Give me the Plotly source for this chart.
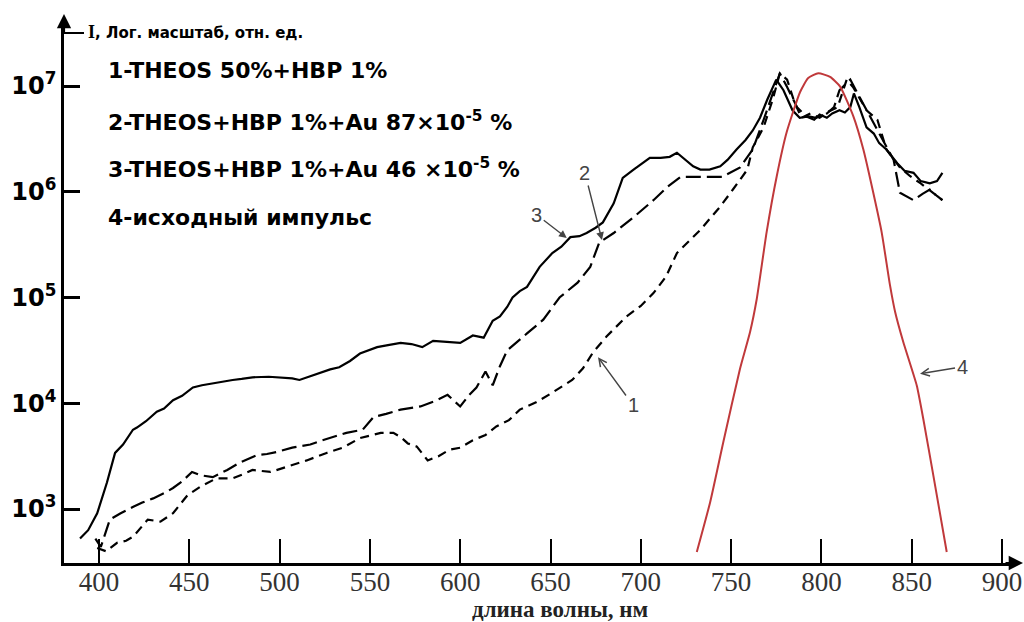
import math
import plotly.graph_objects as go

# ---- data (wavelength, nm ; intensity, rel. units) ----
wl_1 = [399, 404, 410, 415, 419, 423, 427, 434, 441, 449, 456, 465, 474, 480, 485, 495, 504, 515, 526, 535,
        544.5, 556, 563, 567, 571, 576, 582, 588, 594, 600, 607, 614, 620, 627, 633, 642, 651, 662, 668, 673.5,
        681, 692, 700, 707, 714, 720, 733, 744, 751, 759, 762, 768, 773, 777, 781, 785, 789, 794, 799, 804,
        809, 814, 817.5, 825, 831, 836, 843.5, 849, 855, 861, 867]
int_1 = [427, 398, 479, 501, 550, 661, 794, 759, 912, 1350, 1620, 1950, 1950, 2140, 2340, 2240, 2510, 2880, 3390, 3800,
         4680, 5250, 5250, 4790, 4170, 3890, 2880, 3160, 3630, 3800, 4470, 5010, 6030, 6920, 8710, 10200, 12600, 16600, 21400, 30200,
         42700, 66100, 83200, 110000, 158000, 263000, 437000, 724000, 1050000, 1620000, 2630000, 4070000, 7410000, 13200000, 11500000, 7080000, 5010000, 5500000, 5010000, 5750000,
         6310000, 11500000, 9770000, 5890000, 4790000, 2510000, 1700000, 1410000, 1200000, 1000000, 832000]

wl_2 = [398, 401, 406, 412, 419, 424, 430, 436, 441, 446, 451.5, 456, 463, 471, 478, 487.5, 493, 498.6, 507, 517,
        522, 528, 537, 546, 552, 559, 567, 578, 586, 593, 600, 605, 609, 614, 618, 622, 626, 637, 646, 655,
        665, 672, 677, 685, 696, 707, 715, 722, 734, 745, 755, 762, 768, 773, 777, 781, 786.5, 791, 797, 803,
        807, 810, 816, 820, 827, 834, 840, 843.5, 851, 856, 860, 864, 867]
int_2 = [525, 437, 794, 912, 1050, 1150, 1260, 1410, 1580, 1820, 2240, 2090, 2000, 2340, 2750, 3240, 3310, 3470, 3800, 4070,
         4370, 4680, 5250, 5620, 7410, 7940, 8710, 9330, 10500, 12000, 9330, 12000, 14100, 19950, 14800, 22400, 31600, 45700, 61700, 100000,
         138000, 195000, 331000, 407000, 575000, 832000, 1120000, 1380000, 1380000, 1380000, 1700000, 2510000, 4790000, 8510000, 13200000, 9770000, 6310000, 5250000, 5010000, 5500000,
         6310000, 9120000, 11500000, 8510000, 5130000, 3090000, 2000000, 977000, 832000, 955000, 1050000, 912000, 832000]

wl_3 = [389.5, 394, 399, 404.4, 408.9, 413.3, 418.8, 421, 426, 432, 436, 441, 446, 452, 457, 463, 468, 474, 479, 485,
        494, 502, 507, 511, 516, 522, 528, 533, 539, 544.5, 549, 554, 560, 567, 573, 579, 585, 592, 600, 607,
        613, 618, 622, 626, 629, 633, 637, 644, 651, 656, 661, 666, 670, 675, 679, 685, 690, 696, 705, 711,
        716, 720, 725, 729, 733, 738, 744, 748, 753, 758, 762, 766, 770, 773, 775, 779, 782, 784, 788, 792,
        796, 799, 803, 806, 810, 813, 816, 818, 821, 825, 829, 832, 836, 842, 846, 851, 855, 860, 864, 867]
int_3 = [525, 630, 910, 1780, 3390, 4070, 5620, 5890, 6760, 8320, 8910, 10700, 11750, 14100, 14800, 15500, 15850, 16600, 17000, 17600,
         17800, 17600, 17200, 16600, 17800, 19500, 20900, 21900, 25100, 29500, 31600, 33900, 35500, 37200, 36300, 33900, 38900, 38000, 37200, 43700,
         41700, 60300, 66100, 81300, 100000, 115000, 126000, 195000, 263000, 302000, 372000, 380000, 407000, 457000, 513000, 776000, 1350000, 1620000, 2090000, 2090000,
         2140000, 2340000, 2000000, 1740000, 1620000, 1620000, 1740000, 2000000, 2510000, 3090000, 3800000, 5010000, 7410000, 9550000, 11500000, 9120000, 7080000, 5890000, 5010000, 5130000,
         4790000, 5370000, 5010000, 5500000, 5890000, 5620000, 6310000, 8510000, 6310000, 4070000, 3550000, 2880000, 2510000, 1860000, 1580000, 1510000, 1260000, 1200000, 1260000, 1510000]

wl_4 = [731, 738.4, 745.7, 754.9, 760.5, 764.2, 769.7, 775.3, 780.8, 788.2, 792.7, 798.3, 804.8, 810.3, 817.7,
        823.2, 828.7, 833.4, 838, 840.8, 845.3, 852.8, 856.4, 862, 869.4]
int_4 = [392, 1160, 4300, 21100, 47200, 96800, 417000, 1410000, 3670000, 8770000, 11900000, 13200000, 12200000,
         9930000, 5160000, 2520000, 982000, 411000, 130000, 73300, 38100, 14700, 7130, 2070, 392]

x_ticks = [400, 450, 500, 550, 600, 650, 700, 750, 800, 850, 900]
y_ticks = [1e3, 1e4, 1e5, 1e6, 1e7]
y_tick_text = ["<b>10<sup>3</sup></b>", "<b>10<sup>4</sup></b>", "<b>10<sup>5</sup></b>",
               "<b>10<sup>6</sup></b>", "<b>10<sup>7</sup></b>"]

legend_lines = ["1-THEOS 50%+HBP 1%",
                "2-THEOS+HBP 1%+Au 87×10<sup>-5</sup> %",
                "3-THEOS+HBP 1%+Au 46 ×10<sup>-5</sup> %",
                "4-исходный импульс"]

# curve labels: text, wavelength and intensity of the arrow tip, text offset (px), arrowhead style
curve_labels = [("3", 659, 3.66e5, -30, -23, 2), ("2", 678.5, 3.5e5, -17, -67, 2),
                ("1", 676.3, 2.73e4, 35, 48, 5), ("4", 854.6, 1.9e4, 42, -7, 5)]

# ---- figure ----
W, H = 1024, 622
L_M, R_M, T_M, B_M = 64, 10, 26, 59
PW, PH = W - L_M - R_M, H - T_M - B_M

fig = go.Figure()
fig.add_trace(go.Scatter(x=wl_3, y=int_3, mode="lines", line=dict(color="black", width=2.2)))
fig.add_trace(go.Scatter(x=wl_2, y=int_2, mode="lines", line=dict(color="black", width=2.2, dash="15px,6px")))
fig.add_trace(go.Scatter(x=wl_1, y=int_1, mode="lines", line=dict(color="black", width=2.2, dash="9px,6px")))
fig.add_trace(go.Scatter(x=wl_4, y=int_4, mode="lines",
                         line=dict(color="#c0393b", width=2, shape="spline", smoothing=0.5)))


def px(xp):
    return (xp - L_M) / PW


def py(yp):
    return (H - B_M - yp) / PH


annotations = []
for txt, yc in zip(legend_lines, [70, 121, 168, 218]):
    annotations.append(dict(xref="paper", yref="paper", x=px(106), y=py(yc), xanchor="left", yanchor="middle",
                            text="<b>" + txt + "</b>", showarrow=False,
                            font=dict(family="DejaVu Sans", size=22, color="black")))
annotations.append(dict(xref="paper", yref="paper", x=px(86), y=py(32), xanchor="left", yanchor="middle",
                        text="<b><span style='font-family:Liberation Serif;font-size:18px'>I</span>, Лог. масштаб, отн. ед.</b>",
                        showarrow=False, font=dict(family="DejaVu Sans", size=15, color="black")))
annotations.append(dict(xref="paper", yref="paper", x=px(560), y=py(609), xanchor="center", yanchor="middle",
                        text="<b>длина волны, нм</b>", showarrow=False,
                        font=dict(family="Liberation Serif", size=23, color="#222")))
annotations.append(dict(xref="paper", yref="paper", x=px(64), y=py(14), ax=0, ay=20, text="",
                        showarrow=True, arrowhead=2, arrowsize=1.3, arrowwidth=2.2, arrowcolor="black", standoff=0))
annotations.append(dict(xref="paper", yref="paper", x=px(1024), y=py(563), ax=-20, ay=0, text="",
                        showarrow=True, arrowhead=2, arrowsize=1.3, arrowwidth=2.2, arrowcolor="black", standoff=0))
for t, xv, yv, axv, ayv, head in curve_labels:
    annotations.append(dict(x=xv, y=math.log10(yv), xref="x", yref="y", text=t,
                            showarrow=True, ax=axv, ay=ayv, arrowhead=head, arrowsize=1.1, arrowwidth=1.4,
                            arrowcolor="#444", font=dict(family="Liberation Sans", size=20, color="#444"),
                            standoff=0))

fig.update_layout(
    width=W, height=H,
    margin=dict(l=L_M, r=R_M, t=T_M, b=B_M, autoexpand=False),
    plot_bgcolor="white", paper_bgcolor="white",
    showlegend=False,
    annotations=annotations,
    shapes=[dict(type="line", xref="paper", yref="paper", x0=px(64), x1=px(84), y0=py(33), y1=py(33),
                 line=dict(color="black", width=2))],
)
fig.update_xaxes(range=[400 + (64 - 99) / 1.806, 400 + (W - R_M - 99) / 1.806],
                 tickvals=x_ticks, ticks="inside", ticklen=24, tickwidth=2, tickcolor="black",
                 showline=True, linecolor="black", linewidth=2.5, showgrid=False, zeroline=False,
                 ticklabelstandoff=-7,
                 tickfont=dict(family="Liberation Serif", size=27, color="#333"), automargin=False)
fig.update_yaxes(type="log", range=[7 - (563 - 86) / 105.75, 7 + (86 - 26) / 105.75],
                 tickvals=y_ticks, ticktext=y_tick_text, ticks="inside", ticklen=16, tickwidth=2.5,
                 tickcolor="black", showline=True, linecolor="black", linewidth=2.5, showgrid=False,
                 zeroline=False, tickfont=dict(family="DejaVu Sans", size=24, color="black"), automargin=False)

fig.write_html("out.html")
